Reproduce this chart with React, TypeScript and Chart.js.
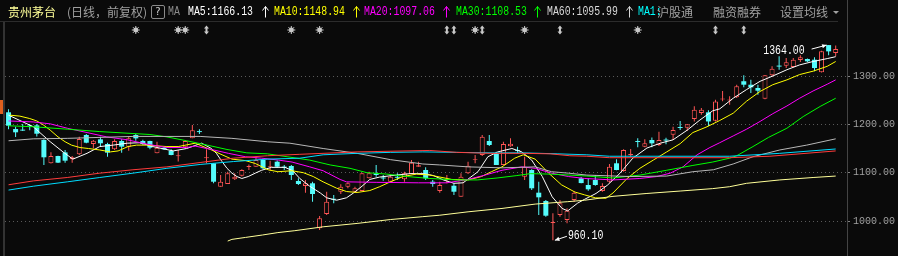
import React, { useEffect, useRef } from 'react';
import { Chart, registerables } from 'chart.js';

Chart.register(...registerables);

// ---------- data ----------
const OPEN = [
  1224.9, 1190.3, 1189, 1197.5, 1197.9, 1167.6, 1119.4, 1134.5, 1142, 1127.7,
  1138, 1178, 1159.3, 1169, 1159.3, 1148.3, 1165.5, 1153.8, 1178, 1165.5,
  1165.5, 1140, 1151.7, 1145.5, 1134, 1152.5, 1171, 1186, 1130, 1119.4,
  1071, 1076.6, 1086.3, 1093.7, 1111.5, 1112.3, 1126.2, 1112, 1122.7, 1112.5,
  1113.8, 1082.8, 1072.4, 1078, 984.9, 1014.5, 1046, 1060.6, 1071, 1060.6,
  1062, 1088.3, 1098.7, 1090, 1081.3, 1091.5, 1086.3, 1097.2, 1112.3, 1105.5,
  1081.3, 1062, 1085, 1073, 1050.3, 1098.7, 1126.5, 1136.6, 1165.5, 1140,
  1115.9, 1154.5, 1147, 1091.7, 1105.5, 1058.6, 1041.4, 996, 1012.4, 1002,
  1043.4, 1088.3, 1074.5, 1084.8, 1062, 1081.3, 1119.4, 1103.5, 1136, 1165.5,
  1153.8, 1167.6, 1157.3, 1168.5, 1178.5, 1194.5, 1193, 1211, 1223.5, 1224.8,
  1207.5, 1251.5, 1249.5, 1256, 1289.2, 1282, 1275.2, 1253, 1301.4, 1321.5,
  1321.3, 1318.6, 1333, 1335.2, 1333.7, 1307.7, 1364, 1347.6,
];
const HIGH = [
  1231, 1195, 1200.7, 1200, 1200.7, 1169, 1142, 1135, 1147, 1134.5,
  1174.4, 1180, 1167.6, 1174.4, 1162, 1169, 1169, 1174.4, 1180, 1168,
  1166, 1164, 1153, 1148.3, 1147, 1165.5, 1198.6, 1190, 1148.3, 1120,
  1095, 1102, 1098.7, 1107, 1117, 1133, 1127, 1124.8, 1125, 1115.9,
  1115.9, 1088.3, 1084.8, 1081, 1010.3, 1060.6, 1053.8, 1076, 1080, 1071,
  1100, 1102, 1115.9, 1095.2, 1095.2, 1098.7, 1102, 1126.2, 1122.7, 1111,
  1084.8, 1081.3, 1095.2, 1078, 1098.7, 1122.7, 1136.6, 1178, 1178, 1143.4,
  1164, 1171, 1153.8, 1133, 1107, 1081.3, 1043.4, 1016, 1043.4, 1026.3,
  1062, 1091, 1088.3, 1095.2, 1078, 1118, 1127.7, 1148.3, 1149, 1171,
  1169, 1173, 1184.8, 1172, 1195, 1206.9, 1200.5, 1237.3, 1234, 1228.9,
  1251, 1269, 1258, 1282, 1301.6, 1292, 1282, 1302, 1320, 1340.7,
  1337.2, 1337, 1342.8, 1336, 1338.6, 1352.5, 1364, 1363,
];
const LOW = [
  1190, 1174, 1186, 1188, 1174.8, 1115.9, 1119, 1120, 1120.7, 1120.7,
  1136.5, 1160.8, 1150.4, 1155, 1133, 1147, 1141.4, 1145.6, 1166, 1157,
  1148.3, 1140, 1147, 1136, 1123, 1150, 1171, 1180, 1119.4, 1078,
  1071, 1076.6, 1084.8, 1092, 1105.5, 1112, 1107, 1104, 1110, 1105.5,
  1084.8, 1074.5, 1058.6, 1040, 981.4, 1012.4, 1036.6, 1055.9, 1067.7, 1058.6,
  1062, 1088, 1091.7, 1083.4, 1081, 1084.8, 1081.3, 1097, 1112, 1084.8,
  1071, 1058.6, 1078, 1053.8, 1050, 1097, 1119.4, 1134.5, 1155, 1115.9,
  1115.9, 1153.8, 1140, 1084.8, 1064, 1012.4, 1009, 960.1, 1009, 995.2,
  1040, 1078, 1062.7, 1073, 1060.6, 1079, 1105, 1102, 1133, 1152.5,
  1152.5, 1152.5, 1155, 1159, 1167.6, 1188.3, 1186, 1206, 1219.9, 1196.5,
  1206, 1248, 1240.6, 1254.5, 1276.6, 1264.7, 1261.3, 1252, 1297.8, 1313,
  1316.5, 1318, 1329, 1329, 1309.7, 1307, 1342.8, 1340.7,
];
const CLOSE = [
  1197.2, 1183.5, 1187, 1195, 1180.6, 1131.8, 1134.5, 1120.7, 1124.8, 1131.8,
  1169.7, 1162, 1166, 1160.8, 1141.4, 1165.5, 1153.8, 1171.1, 1171, 1159.3,
  1151.7, 1151.7, 1148.3, 1136.6, 1136, 1165.5, 1188, 1184, 1132, 1081.3,
  1081.3, 1098.7, 1091.7, 1105.5, 1113.6, 1126.2, 1109, 1114, 1112.3, 1110.4,
  1095.2, 1076.6, 1078, 1055.9, 1005.6, 1040, 1044, 1071, 1078, 1067.7,
  1098.7, 1098.7, 1095.2, 1088, 1091.7, 1089.5, 1098.7, 1120.6, 1115.3, 1088.3,
  1076.6, 1074.5, 1087, 1060.6, 1091.7, 1114.4, 1128.5, 1174.4, 1157.3, 1115.9,
  1159.3, 1159.7, 1145, 1112.3, 1067.7, 1049, 1011, 998, 1036.6, 1021.3,
  1058.6, 1078.5, 1065.6, 1074.5, 1072.4, 1112.3, 1105.5, 1146.9, 1138.6, 1163.5,
  1160.7, 1160.7, 1167.6, 1166.5, 1188.3, 1192.5, 1200, 1230.4, 1230.4, 1206,
  1247.5, 1253.5, 1251.5, 1278.7, 1282, 1276.6, 1269.6, 1301.4, 1315, 1319.5,
  1328.3, 1333.7, 1338.6, 1330.4, 1316.5, 1351, 1351, 1355.9,
];

// moving-average curves: [candle index, price]
const MA5 = [
  [0, 1219], [3.5, 1195], [5.9, 1164], [7.7, 1143], [9.1, 1128], [11.1, 1140], [12.9, 1154],
  [14.8, 1157], [16.8, 1161], [18.6, 1162], [20.4, 1154], [23.3, 1145], [25.2, 1150], [27.3, 1161],
  [28.7, 1150], [29.4, 1140], [30.2, 1123], [30.9, 1109], [31.6, 1099], [32.3, 1092], [33, 1088],
  [33.9, 1092], [34.9, 1099], [35.8, 1105], [37.2, 1111], [39.1, 1111], [40.2, 1104], [41.2, 1088],
  [42.6, 1072], [44.1, 1058], [45, 1048], [46.4, 1043], [47.8, 1048], [48.8, 1058], [50, 1072],
  [51.1, 1086], [52.5, 1091], [54.9, 1095], [56.8, 1098], [58.7, 1098], [60.1, 1094], [61.5, 1085],
  [63, 1078], [64.3, 1079], [65.3, 1090], [66.4, 1102], [67.8, 1133], [69.2, 1143], [71.2, 1150],
  [72.6, 1143], [74, 1126], [75.5, 1092], [76.9, 1050], [78.3, 1026], [79.1, 1021], [80.5, 1037],
  [81.5, 1045], [83.1, 1057], [84.7, 1074], [86.5, 1099], [88.3, 1130], [90.3, 1151], [92.2, 1161],
  [94, 1168], [96, 1188], [97.8, 1209], [99.6, 1228], [100.6, 1232], [102.5, 1254], [104.4, 1272],
  [106.3, 1289], [108.1, 1300], [110.1, 1313], [111.9, 1323], [113.8, 1330], [115.8, 1336], [117, 1340],
];
const MA10 = [
  [0.2, 1219], [1.6, 1217], [3, 1212], [4, 1207], [4.9, 1199], [5.9, 1188], [7, 1174], [8, 1164],
  [8.9, 1157], [10.1, 1152], [11.3, 1150], [12.9, 1147], [14.4, 1143], [15.5, 1145], [16.9, 1154],
  [18.1, 1157], [19.5, 1157], [22.4, 1154], [24, 1154], [26.4, 1161], [28.7, 1147], [30.2, 1137],
  [31.6, 1128], [33.5, 1125], [34.9, 1119], [36.7, 1106], [38.1, 1102], [40.1, 1104], [41.7, 1100],
  [43.1, 1092], [44.5, 1081], [46.4, 1068], [47.8, 1061], [49.3, 1059], [51.1, 1063], [52.5, 1071],
  [54, 1081], [55.8, 1092], [57.7, 1097], [59.6, 1095], [60.3, 1093], [62.7, 1086], [65, 1085],
  [66.9, 1092], [68.3, 1102], [69.8, 1112], [71.6, 1130], [72.8, 1137], [74.5, 1128], [76.4, 1099],
  [78.2, 1075], [80.1, 1060], [81.5, 1054], [83, 1048], [84.5, 1047], [85.5, 1058], [87.5, 1088],
  [89.3, 1109], [91.2, 1126], [93.1, 1143], [95, 1160], [96.8, 1183], [98.8, 1195], [100.6, 1208],
  [102.5, 1223], [104.4, 1248], [106.3, 1268], [108.1, 1282], [110.1, 1292], [111.9, 1303],
  [113.8, 1310], [115.8, 1320], [117, 1330],
];
const MA20 = [
  [0, 1207], [3.5, 1205], [5.9, 1201], [8.3, 1192], [11.1, 1183], [13.9, 1174], [16.8, 1168],
  [19.6, 1159], [22.4, 1152], [25.2, 1152], [26.4, 1155], [28.7, 1148], [31.1, 1140], [33.5, 1133],
  [35.8, 1130], [38.2, 1126], [40.1, 1122], [42.6, 1112], [44.5, 1104], [46.9, 1086], [47.8, 1081],
  [52, 1080], [58, 1079], [62, 1079], [65, 1086], [67.4, 1095], [69.8, 1105], [72.6, 1112],
  [74.5, 1109], [76.8, 1099], [79.2, 1092], [81.5, 1088], [85.5, 1085], [89.3, 1088], [91.7, 1092],
  [93.6, 1099], [95.4, 1112], [97.4, 1137], [99.2, 1152], [100.6, 1162], [102.5, 1176], [104.4, 1190],
  [106.3, 1206], [108.1, 1222], [110.1, 1238], [111.9, 1254], [113.8, 1269], [115.8, 1283], [117, 1292],
];
const MA30 = [
  [0, 1197], [3.5, 1195], [8.3, 1190], [12.9, 1185], [17.6, 1181], [20, 1179], [22.4, 1174],
  [25.2, 1166], [28.1, 1157], [30.9, 1148], [33.7, 1141], [36.6, 1139], [39.4, 1133], [42.6, 1126],
  [45.5, 1116], [48.3, 1109], [50.7, 1100], [53.5, 1097], [56.4, 1092], [59.6, 1088], [63.4, 1085],
  [66.3, 1085], [69.1, 1089], [71.9, 1094], [73.8, 1098], [76.6, 1097], [79.4, 1095], [81.8, 1093],
  [85.5, 1089], [89.3, 1095], [93.1, 1105], [96.8, 1115], [99.6, 1122], [102, 1130], [103, 1135],
  [105.3, 1154], [107.5, 1173], [110.1, 1192], [112.4, 1216], [114.8, 1237], [117, 1254],
];
const MA60 = [
  [0, 1166], [3.5, 1170], [8.3, 1171], [17.6, 1175], [27.1, 1175], [31.6, 1171], [36.6, 1164],
  [39.8, 1161], [44.5, 1150], [49.3, 1140], [54, 1127], [58.6, 1118], [61, 1116], [65, 1112],
  [69.8, 1110], [74.5, 1112], [76.8, 1102], [79.2, 1099], [81.8, 1095], [87.9, 1092], [93.1, 1093],
  [96.8, 1102], [99.7, 1106], [102.5, 1118], [105.3, 1133], [109.1, 1147], [112.9, 1157], [117, 1170],
];
const MA_RED = [
  [0, 1075], [3.5, 1083], [8.3, 1090], [12.9, 1099], [17.6, 1106], [22.4, 1112], [27.1, 1121],
  [31.8, 1130], [36.6, 1135], [41.2, 1138], [49.3, 1143], [59.6, 1146], [63.4, 1142], [68.1, 1140],
  [72.8, 1140], [76.6, 1139], [79.4, 1135], [81.8, 1134], [85, 1131], [102, 1131], [107.7, 1134],
  [117, 1145],
];
const MA_CYAN = [
  [0, 1064], [3.5, 1072], [8.3, 1081], [12.9, 1090], [17.6, 1099], [22.4, 1109], [27.1, 1117],
  [31.8, 1123], [36.6, 1128], [41.2, 1130], [44.5, 1137], [49.3, 1140], [54, 1142], [58.6, 1143],
  [63.4, 1142], [68.1, 1141], [72.8, 1141], [77.6, 1139], [81.8, 1137], [85, 1134], [102, 1134],
  [109.1, 1140], [117, 1149],
];
const MA_LONG = [
  [31, 958.5], [31.6, 962], [33.5, 966], [35.9, 971], [38.1, 976], [40.5, 980], [44.5, 988],
  [49.3, 995], [54, 1003], [58.6, 1009], [61, 1012], [65, 1019], [69.8, 1026], [74.5, 1035],
  [79.1, 1040], [81.5, 1043], [85.5, 1051], [90.3, 1057], [95, 1062], [99.6, 1067], [102, 1071],
  [104.4, 1078], [109.1, 1085], [113.8, 1090], [117, 1093],
];

const Y_TICKS = [1000, 1100, 1200, 1300];

// event markers above the candles: candle index and kind (s = star, d = double arrow)
const MARK_IDX = [18, 24, 25, 28, 40, 44, 62, 63, 66, 67, 73, 78, 89, 100, 104];
const MARK_KIND = ['s', 's', 's', 'd', 's', 's', 'd', 'd', 's', 'd', 's', 'd', 's', 'd', 'd'];

const HEADER_MA = [
  { text: 'MA5:1166.13', x: 188, color: '#ffffff', ax: 262 },
  { text: 'MA10:1148.94', x: 274, color: '#ffff00', ax: 353 },
  { text: 'MA20:1097.06', x: 364, color: '#ff00ff', ax: 443 },
  { text: 'MA30:1108.53', x: 456, color: '#00ff00', ax: 534 },
  { text: 'MA60:1095.99', x: 547, color: '#d8d8d8', ax: 626 },
];

// ---------- styles ----------
const BG = '#0a0a0a';
const UP = '#ff5555';
const DOWN = '#54fcfc';
const MONO = '"Liberation Mono", "DejaVu Sans Mono", monospace';
const CJK = '"Noto Sans CJK SC", "Noto Sans", sans-serif';

const decoPlugin = {
  id: 'deco',
  afterDatasetsDraw(chart: any) {
    const { ctx, scales } = chart;
    const xs = scales.x;
    const ys = scales.y;
    ctx.save();
    // markers
    const my = 30;
    MARK_IDX.forEach((idx, k) => {
      const px = xs.getPixelForValue(idx);
      ctx.fillStyle = '#c8c8c8';
      ctx.strokeStyle = '#c8c8c8';
      ctx.lineWidth = 1;
      if (MARK_KIND[k] === 's') {
        ctx.beginPath();
        for (let a = 0; a < 8; a++) {
          const ang = (a * Math.PI) / 4;
          ctx.moveTo(px, my);
          ctx.lineTo(px + Math.cos(ang) * 4, my + Math.sin(ang) * 4);
        }
        ctx.stroke();
        ctx.beginPath();
        ctx.arc(px, my, 2.4, 0, Math.PI * 2);
        ctx.fill();
      } else {
        ctx.beginPath();
        ctx.moveTo(px, my - 4.5);
        ctx.lineTo(px + 2.5, my - 1.5);
        ctx.lineTo(px + 1, my - 1.5);
        ctx.lineTo(px + 1, my + 1.5);
        ctx.lineTo(px + 2.5, my + 1.5);
        ctx.lineTo(px, my + 4.5);
        ctx.lineTo(px - 2.5, my + 1.5);
        ctx.lineTo(px - 1, my + 1.5);
        ctx.lineTo(px - 1, my - 1.5);
        ctx.lineTo(px - 2.5, my - 1.5);
        ctx.closePath();
        ctx.fill();
      }
    });

    const narrow = (text: string, x: number, y: number, align: 'left' | 'right') => {
      ctx.save();
      ctx.font = '12px ' + MONO;
      ctx.textBaseline = 'middle';
      ctx.textAlign = 'left';
      const w = ctx.measureText(text).width * 0.82;
      const left = align === 'right' ? x - w : x;
      ctx.translate(left, y);
      ctx.scale(0.82, 1);
      ctx.fillStyle = '#ffffff';
      ctx.fillText(text, 0, 0);
      ctx.restore();
    };
    const arrow = (x1: number, y1: number, x2: number, y2: number) => {
      ctx.strokeStyle = '#ffffff';
      ctx.fillStyle = '#ffffff';
      ctx.lineWidth = 1;
      ctx.beginPath();
      ctx.moveTo(x1, y1);
      ctx.lineTo(x2, y2);
      ctx.stroke();
      const ang = Math.atan2(y2 - y1, x2 - x1);
      ctx.beginPath();
      ctx.moveTo(x2, y2);
      ctx.lineTo(x2 - 5 * Math.cos(ang - 0.45), y2 - 5 * Math.sin(ang - 0.45));
      ctx.lineTo(x2 - 5 * Math.cos(ang + 0.45), y2 - 5 * Math.sin(ang + 0.45));
      ctx.closePath();
      ctx.fill();
    };

    let maxI = 0;
    let minI = 0;
    HIGH.forEach((h, i) => { if (h > HIGH[maxI]) maxI = i; });
    LOW.forEach((l, i) => { if (l < LOW[minI]) minI = i; });
    const hx = xs.getPixelForValue(maxI);
    const hy = ys.getPixelForValue(HIGH[maxI]);
    arrow(hx - 17, hy + 4, hx - 2, hy);
    narrow(HIGH[maxI].toFixed(2), hx - 24, hy + 6, 'right');

    const lx = xs.getPixelForValue(minI);
    const ly = ys.getPixelForValue(LOW[minI]);
    arrow(lx + 14, ly - 4, lx + 2, ly);
    narrow(LOW[minI].toFixed(2), lx + 15, ly - 4.5, 'left');
    ctx.restore();
  },
};

const lineDs = (pts: number[][], color: string) => ({
  type: 'line' as const,
  data: pts.map(([x, y]) => ({ x, y })),
  borderColor: color,
  borderWidth: 1,
  pointRadius: 0,
  pointHoverRadius: 0,
  tension: 0,
  fill: false,
  order: 0,
});

function UpArrow({ left, color }: { left: number; color: string }) {
  return (
    <svg width={7} height={12} style={{ position: 'absolute', left, top: 6 }}>
      <path d="M3.5 0.5 L3.5 11.5 M3.5 0.5 L0.5 4.5 M3.5 0.5 L6.5 4.5" stroke={color} strokeWidth={1} fill="none" />
    </svg>
  );
}

export default function App() {
  const ref = useRef<HTMLCanvasElement>(null);

  useEffect(() => {
    const canvas = ref.current;
    if (!canvas) return;
    const isUp = CLOSE.map((c, i) => c >= OPEN[i]);
    const chart = new Chart(canvas, {
      type: 'bar',
      data: {
        datasets: [
          lineDs(MA_LONG, '#ffff99'),
          lineDs(MA_RED, '#ff3c3c'),
          lineDs(MA_CYAN, '#00dcff'),
          lineDs(MA60, '#b8b8b8'),
          lineDs(MA30, '#00ff00'),
          lineDs(MA20, '#ff00ff'),
          lineDs(MA10, '#ffff00'),
          lineDs(MA5, '#ffffff'),
          {
            type: 'bar',
            data: CLOSE.map((c, i) => ({ x: i, y: [OPEN[i], c] })),
            backgroundColor: isUp.map((u) => (u ? BG : DOWN)),
            borderColor: isUp.map((u) => (u ? UP : DOWN)),
            borderWidth: isUp.map((u) => (u ? 1 : 0)),
            borderSkipped: false,
            inflateAmount: 0,
            grouped: false,
            categoryPercentage: 1,
            barPercentage: 0.707,
            order: 1,
          },
          {
            type: 'bar',
            data: CLOSE.map((c, i) => ({ x: i, y: [LOW[i], HIGH[i]] })),
            backgroundColor: isUp.map((u) => (u ? UP : DOWN)),
            borderWidth: 0,
            inflateAmount: 0,
            grouped: false,
            categoryPercentage: 1,
            barPercentage: 0.1414,
            order: 2,
          },
        ] as any,
      },
      options: {
        responsive: false,
        animation: false,
        devicePixelRatio: 1,
        events: [],
        layout: { padding: { left: 5, right: 0, top: 24, bottom: 13 } },
        plugins: { legend: { display: false }, tooltip: { enabled: false } },
        scales: {
          x: {
            type: 'linear',
            display: false,
            min: -0.5,
            max: 118.6,
            offset: false,
            grid: { display: false },
          },
          y: {
            position: 'right',
            min: 954.5,
            max: 1407.6,
            afterFit: (s: any) => { s.width = 51; },
            afterBuildTicks: (s: any) => { s.ticks = Y_TICKS.map((v) => ({ value: v })); },
            ticks: {
              color: '#a0a0a0',
              font: { family: MONO, size: 10 },
              padding: 3,
              callback: (v: any) => Number(v).toFixed(2),
            },
            grid: {
              color: '#5a5a5a',
              lineWidth: 1,
              tickLength: 3,
              tickColor: '#808080',
              tickBorderDash: [],
            },
            border: { display: false, dash: [1, 3] },
          },
        },
      } as any,
      plugins: [decoPlugin],
    });
    return () => chart.destroy();
  }, []);

  const monoStyle = (left: number, color: string): React.CSSProperties => ({
    position: 'absolute',
    left,
    top: 5,
    fontFamily: MONO,
    fontSize: 12,
    lineHeight: '14px',
    color,
    whiteSpace: 'pre',
    transform: 'scaleX(0.82)',
    transformOrigin: '0 50%',
  });
  const cjkStyle = (left: number, color: string): React.CSSProperties => ({
    position: 'absolute',
    left,
    top: 5,
    fontFamily: CJK,
    fontSize: 12,
    lineHeight: '14px',
    color,
    whiteSpace: 'pre',
  });

  return (
    <div style={{ position: 'fixed', left: 0, top: 0, width: 898, height: 256, background: BG, overflow: 'hidden' }}>
      <canvas ref={ref} width={898} height={256} style={{ position: 'absolute', left: 0, top: 0, width: 898, height: 256 }} />
      <div style={{ position: 'absolute', left: 0, top: 21, width: 838, height: 1, background: '#2c2c2c' }} />
      <div style={{ position: 'absolute', left: 847, top: 0, width: 1, height: 256, background: '#444444' }} />
      <div style={{ position: 'absolute', left: 3, top: 22, width: 2, height: 234, background: '#333333' }} />
      <div style={{ position: 'absolute', left: 0, top: 100, width: 3, height: 14, background: '#e0601e' }} />
      <span style={cjkStyle(8, '#ffff99')}>贵州茅台</span>
      <span style={cjkStyle(67, '#a0a0a0')}>(日线，前复权)</span>
      <div
        style={{
          position: 'absolute', left: 151, top: 5, width: 14, height: 14, boxSizing: 'border-box',
          border: '1px solid #8a8a8a', borderRadius: 2, color: '#d0d0d0', fontFamily: '"DejaVu Sans", sans-serif',
          fontSize: 10, lineHeight: '12px', textAlign: 'center',
        }}
      >
        ?
      </div>
      <span style={monoStyle(168, '#8a8a8a')}>MA</span>
      {HEADER_MA.map((m) => (
        <React.Fragment key={m.text}>
          <span style={monoStyle(m.x, m.color)}>{m.text}</span>
          <UpArrow left={m.ax} color={m.color} />
        </React.Fragment>
      ))}
      <span style={monoStyle(638, '#00ffff')}>MA1:</span>
      <span style={cjkStyle(657, '#a0a0a0')}>沪股通</span>
      <span style={cjkStyle(713, '#a0a0a0')}>融资融券</span>
      <span style={cjkStyle(780, '#a0a0a0')}>设置均线</span>
      <div
        style={{
          position: 'absolute', left: 833, top: 11, width: 0, height: 0,
          borderLeft: '3px solid transparent', borderRight: '3px solid transparent', borderTop: '3px solid #a0a0a0',
        }}
      />
    </div>
  );
}
